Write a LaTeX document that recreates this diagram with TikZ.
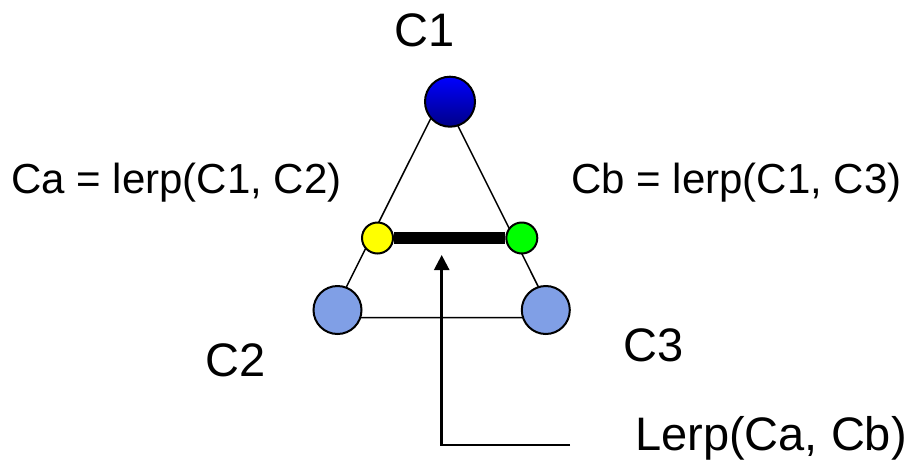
\documentclass[tikz,border=0pt]{standalone}
\usepackage{fontspec}
\setmainfont{Liberation Sans}
\usetikzlibrary{arrows.meta}
\definecolor{lightblue}{RGB}{128,159,230}
\definecolor{brightblue}{RGB}{0,0,255}
\definecolor{darkblue}{RGB}{0,0,135}
\definecolor{brightgreen}{RGB}{0,255,0}
\definecolor{brightyellow}{RGB}{255,255,0}
\begin{document}
\begin{tikzpicture}[x=1pt,y=-1pt,
  lbl/.style={anchor=base west,inner sep=0pt},
  big/.style={font=\fontsize{47}{56}\selectfont},
  mid/.style={font=\fontsize{42}{50}\selectfont},
  edge/.style={line width=1.5pt,black},
  ball/.style={circle,draw=black,line width=2pt,inner sep=0pt},
  bigball/.style={ball,minimum size=48pt,fill=lightblue},
  smallball/.style={ball,minimum size=31pt}]
\useasboundingbox (0,0) rectangle (913,472);
% triangle vertices
\coordinate (A) at (442.5,95);
\coordinate (B) at (331,317.7);
\coordinate (C) at (553.8,317.7);
\draw[edge] (A) -- (B) -- (C) -- cycle;
% nodes
\node[ball,minimum size=50pt,top color=brightblue,bottom color=darkblue] (c1) at (450,101.7) {};
\node[bigball] (c2) at (337.5,310) {};
\node[bigball] (c3) at (545.8,310) {};
\node[smallball,fill=brightyellow] (ca) at (377.5,238) {};
\node[smallball,fill=brightgreen] (cb) at (521.8,238) {};
\draw[line width=11.5pt] (ca.east) -- (cb.west);
% labels
\node[lbl,big] (t1) at (394,46) {C1};
\node[lbl,big] (t2) at (205,376.5) {C2};
\node[lbl,big] (t3) at (623,361.5) {C3};
\node[lbl,mid] (ta) at (11,193) {Ca = lerp(C1, C2)};
\node[lbl,mid] (tb) at (571,193) {Cb = lerp(C1, C3)};
\node[lbl,big] (tl) at (635,450) {Lerp(Ca, Cb)};
% arrow
\coordinate (lend) at (570,445);
\coordinate (corner) at (441.7,445);
\coordinate (tip) at (441.7,255);
\draw[line width=2.5pt,-{Triangle[width=15pt,length=15pt]}] (lend) -- (corner) -- (tip);
\end{tikzpicture}
\end{document}
